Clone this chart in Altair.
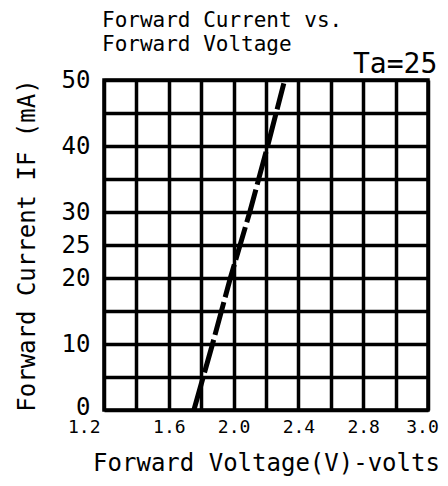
import altair as alt
import pandas as pd

# Curve: forward voltage (V) vs forward current (mA)
voltage = [1.755, 1.87, 1.98, 2.10, 2.21, 2.31]
current = [0, 10, 20, 30, 40, 49.5]

x_grid = [1.2, 1.4, 1.6, 1.8, 2.0, 2.2, 2.4, 2.6, 2.8, 3.0, 3.2]
x_tick_vals = [1.2, 1.6, 2.0, 2.4, 2.8, 3.2]
x_tick_labels = ["1.2", "1.6", "2.0", "2.4", "2.8", "3.0"]
y_grid = [0, 5, 10, 15, 20, 25, 30, 35, 40, 45, 50]
y_tick_vals = [0, 10, 20, 25, 30, 40, 50]

title_lines = ["Forward Current vs.", "Forward Voltage"]
annotation = "Ta=25\u00b0"
x_title = "Forward Voltage(V)-volts"
y_title = "Forward Current IF (mA)"

FONT = "DejaVu Sans Mono"

df = pd.DataFrame({"V": voltage, "I": current})

xv = "[" + ",".join(str(v) for v in x_tick_vals) + "]"
xl = "[" + ",".join(f"'{s}'" for s in x_tick_labels) + "]"
x_label_expr = f"indexof({xv}, datum.value) < 0 ? '' : {xl}[indexof({xv}, datum.value)]"
yv = "[" + ",".join(str(v) for v in y_tick_vals) + "]"
y_label_expr = f"indexof({yv}, datum.value) < 0 ? '' : datum.label"

line = alt.Chart(df).mark_line(
    color="black", strokeWidth=5, strokeDash=[34, 5], strokeCap="butt"
).encode(
    x=alt.X("V:Q",
            scale=alt.Scale(domain=[1.2, 3.2], nice=False, zero=False),
            axis=alt.Axis(values=x_grid, labelExpr=x_label_expr, ticks=False, domain=False,
                          grid=True, gridColor="black", gridWidth=3.5, gridOpacity=1,
                          labelFont=FONT, labelFontSize=18, labelColor="black",
                          labelFlush=False, labelPadding=8, labelOverlap=False,
                          labelAlign={"condition": {"test": "datum.value == 1.2", "value": "right"},
                                      "value": "center"},
                          labelOffset={"condition": [
                              {"test": "datum.value == 1.2", "value": -4},
                              {"test": "datum.value == 3.2", "value": -6}],
                              "value": 0},
                          title=x_title, titleFont=FONT, titleFontSize=24,
                          titleFontWeight="normal", titleColor="black", titlePadding=15)),
    y=alt.Y("I:Q",
            scale=alt.Scale(domain=[0, 50], nice=False),
            axis=alt.Axis(values=y_grid, labelExpr=y_label_expr, ticks=False, domain=False,
                          grid=True, gridColor="black", gridWidth=3.5, gridOpacity=1,
                          labelFont=FONT, labelFontSize=24, labelColor="black",
                          labelPadding=14, labelOverlap=False, labelFlush=False,
                          labelOffset={"condition": {"test": "datum.value == 0", "value": -3},
                                       "value": 0},
                          title=y_title, titleFont=FONT, titleFontSize=24,
                          titleFontWeight="normal", titleColor="black", titlePadding=22)),
)

ttl = alt.Chart(pd.DataFrame({"t": ["\n".join(title_lines)]})).mark_text(
    font=FONT, fontSize=21, color="black", align="left", baseline="alphabetic",
    lineBreak="\n", lineHeight=24
).encode(text="t:N", x=alt.value(-2), y=alt.value(-53))

ann = alt.Chart(pd.DataFrame({"t": [annotation]})).mark_text(
    font=FONT, fontSize=28, color="black", align="left", baseline="alphabetic"
).encode(text="t:N", x=alt.value(249), y=alt.value(-7))

chart = alt.layer(line, ttl, ann).properties(
    width=324, height=330,
    autosize=alt.AutoSizeParams(type="none"),
    padding={"left": 96, "top": 72, "right": 12, "bottom": 68},
    background="white",
).configure_view(stroke="black", strokeWidth=3.5)

chart.save("out.html", embed_options={"renderer": "svg", "actions": False})
